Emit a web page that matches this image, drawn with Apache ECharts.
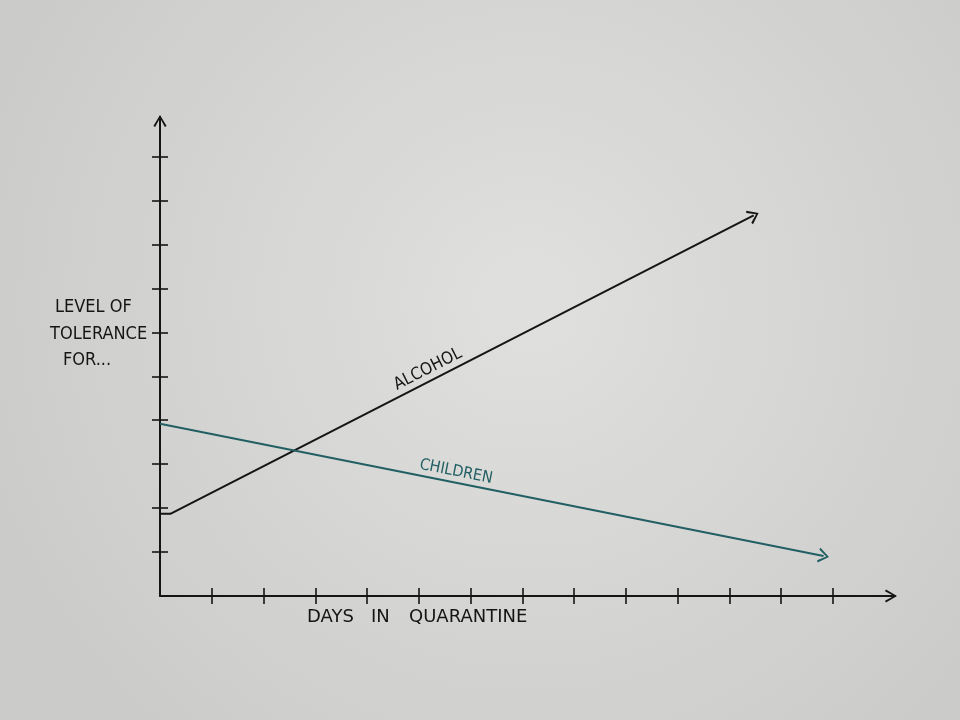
<!DOCTYPE html>
<html>
<head>
<meta charset="utf-8">
<script src="https://cdn.jsdelivr.net/npm/echarts@6/dist/echarts.min.js"></script>
<style>html,body{margin:0;padding:0;}#c{width:960px;height:720px;}</style>
</head>
<body>
<div id="c"></div>
<script>
// ---- data ----
const xTicks = [1,2,3,4,5,6,7,8,9,10,11,12,13];
const yTicks = [1,2,3,4,5,6,7,8,9,10];
const alcohol = [[0, 1.87], [0.2, 1.87], [11.47, 8.66]];
const children = [[0, 3.92], [12.82, 0.91]];
const yTitleLines = ['LEVEL OF', 'TOLERANCE', 'FOR...'];
const xTitleWords = ['DAYS', 'IN', 'QUARANTINE'];

const INK = '#151515';
const TEAL = '#215f63';
const FONT = '"DejaVu Sans Condensed", "DejaVu Sans", sans-serif';
const FONT2 = '"DejaVu Sans", sans-serif';
const CHEV = 'path://M0,10 L6,0 L12,10 L10.4,10.9 L6,2.8 L1.6,10.9 Z';

const chart = echarts.init(document.getElementById('c'));

const tickStyle = { color: INK, width: 1.6 };

function xAx(inside) {
  return {
    type: 'value', min: 0, max: 14.2, interval: 1, position: 'bottom', offset: 0,
    axisLine: inside ? { show: false } : { show: true, onZero: false, lineStyle: { color: INK, width: 2 },
      symbol: ['none', CHEV], symbolSize: [16, 12], symbolOffset: [0, -4] },
    axisTick: { show: true, inside: inside, customValues: xTicks, length: 8, lineStyle: tickStyle },
    axisLabel: { show: false },
    splitLine: { show: false }
  };
}
function yAx(inside) {
  return {
    type: 'value', min: 0, max: 10.9, interval: 1, position: 'left', offset: 0,
    axisLine: inside ? { show: false } : { show: true, onZero: false, lineStyle: { color: INK, width: 2 },
      symbol: ['none', CHEV], symbolSize: [16, 12], symbolOffset: [0, -4] },
    axisTick: { show: true, inside: inside, customValues: yTicks, length: 8, lineStyle: tickStyle },
    axisLabel: { show: false },
    splitLine: { show: false }
  };
}

const option = {
  animation: false,
  backgroundColor: {
    type: 'radial', x: 0.55, y: 0.42, r: 0.8,
    colorStops: [{ offset: 0, color: '#e0e0de' }, { offset: 1, color: '#cbcbc9' }]
  },
  grid: { left: 160, right: 65, top: 117, bottom: 124 },
  xAxis: [xAx(false), xAx(true)],
  yAxis: [yAx(false), yAx(true)],
  series: [{
    name: 'ALCOHOL', type: 'line', showSymbol: true, symbol: 'none',
    data: alcohol,
    lineStyle: { color: INK, width: 2 },
    itemStyle: { color: INK },
    markPoint: {
      symbol: 'circle', symbolSize: 0,
      data: [{ coord: [5.25, 4.92],
        label: { show: true, formatter: 'ALCOHOL', position: 'top', distance: 3, rotate: 27,
          color: INK, fontFamily: FONT, fontSize: 17 } }]
    }
  }, {
    name: 'CHILDREN', type: 'line', showSymbol: true, symbol: 'none',
    data: children,
    lineStyle: { color: TEAL, width: 2 },
    itemStyle: { color: TEAL },
    markPoint: {
      symbol: 'circle', symbolSize: 0,
      data: [{ coord: [5.69, 2.58],
        label: { show: true, formatter: 'CHILDREN', position: 'top', distance: 3, rotate: -11.2,
          color: TEAL, fontFamily: FONT, fontSize: 16 } }]
    }
  }],
  graphic: [
    { type: 'text', left: 55, top: 298, style: { text: yTitleLines[0], fill: INK, font: '18px ' + FONT } },
    { type: 'text', left: 50, top: 325, style: { text: yTitleLines[1], fill: INK, font: '18px ' + FONT } },
    { type: 'text', left: 63, top: 351, style: { text: yTitleLines[2], fill: INK, font: '18px ' + FONT } },
    { type: 'text', left: 307, top: 608, style: { text: xTitleWords[0], fill: INK, font: '18px ' + FONT2 } },
    { type: 'text', left: 371, top: 608, style: { text: xTitleWords[1], fill: INK, font: '18px ' + FONT2 } },
    { type: 'text', left: 409, top: 608, style: { text: xTitleWords[2], fill: INK, font: '18px ' + FONT2 } }
  ]
};
chart.setOption(option);

// arrow heads at the end of each line, oriented by the pixel direction of the last segment
function withArrow(arr, color) {
  const a = chart.convertToPixel({ gridIndex: 0 }, arr[arr.length - 2]);
  const b = chart.convertToPixel({ gridIndex: 0 }, arr[arr.length - 1]);
  const rot = Math.atan2(-(b[1] - a[1]), b[0] - a[0]) * 180 / Math.PI - 90;
  return arr.map((p, i) => i === arr.length - 1
    ? { value: p, symbol: CHEV, symbolSize: [15, 11], symbolRotate: rot, itemStyle: { color: color } }
    : { value: p, symbol: 'none' });
}
chart.setOption({ series: [{ data: withArrow(alcohol, INK) }, { data: withArrow(children, TEAL) }] });
</script>
</body>
</html>
